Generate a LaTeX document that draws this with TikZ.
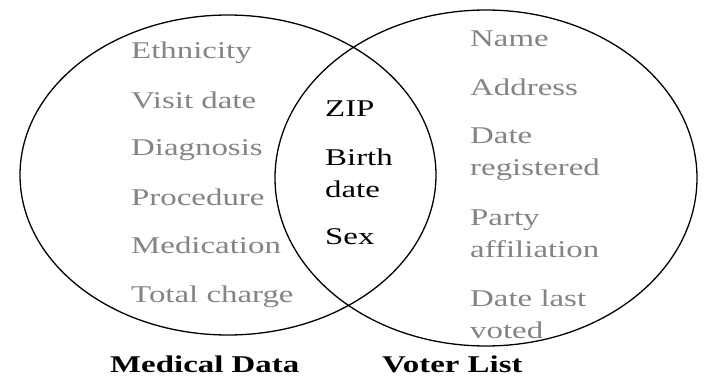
\documentclass[tikz,border=0pt]{standalone}
\usepackage{fontspec}
\setmainfont[FakeStretch=1.37]{Liberation Serif}
\usetikzlibrary{shapes.geometric}
\definecolor{textgray}{RGB}{132,132,132}
\begin{document}
\begin{tikzpicture}[x=1pt,y=-1pt,
  setfont/.style={font=\fontsize{24}{31.5}\selectfont},
  side/.style={anchor=base west, inner sep=0pt, text=textgray, align=left, setfont},
  mid/.style={side, text=black},
  settitle/.style={anchor=base west, inner sep=0pt, font=\bfseries\fontsize{24}{31.5}\selectfont},
  venn/.style={ellipse, draw=black, line width=1.3pt, inner sep=0pt}]
\useasboundingbox[fill=white] (0,0) rectangle (713,383);
\node[venn, minimum width=416pt, minimum height=320pt] (med) at (228,175) {};
\node[venn, minimum width=422pt, minimum height=336pt] (voter) at (486,178) {};
% medical data only
\node[side] (eth) at (131,58) {Ethnicity};
\node[side] (visit) at (131,108) {Visit date};
\node[side] (diag) at (131,155) {Diagnosis};
\node[side] (proc) at (131,205) {Procedure};
\node[side] (medi) at (131,253) {Medication};
\node[side] (total) at (131,302) {Total charge};
% shared
\node[mid] (zip) at (325,116) {ZIP};
\node[mid] (birth) at (325,197) {Birth\\date};
\node[mid] (sex) at (325,244) {Sex};
% voter list only
\node[side] (name) at (470,46) {Name};
\node[side] (addr) at (470,95) {Address};
\node[side] (dreg) at (470,175) {Date\\registered};
\node[side] (party) at (470,257) {Party\\affiliation};
\node[side] (dlast) at (470,338) {Date last\\voted};
% titles
\node[settitle] (medt) at (110,372) {Medical Data};
\node[settitle] (votert) at (382,372) {Voter List};
\end{tikzpicture}
\end{document}
